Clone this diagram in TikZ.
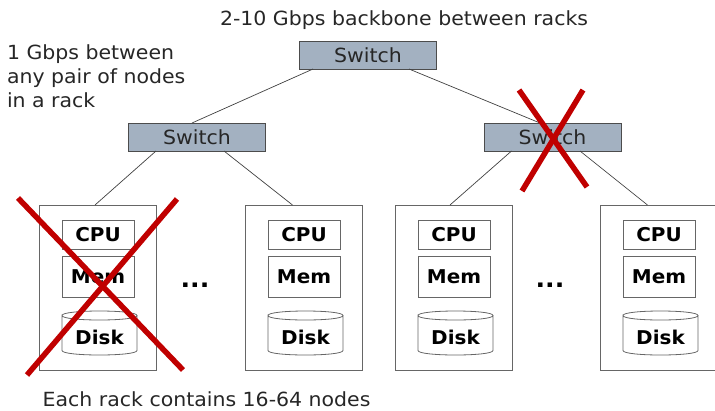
\documentclass[tikz,border=0pt]{standalone}
\usepackage{fontspec}
\setmainfont{DejaVu Sans}[FakeStretch=1.05]
\usetikzlibrary{calc}
\begin{document}
\begin{tikzpicture}[x=1pt,y=-1pt,
  every node/.style={inner sep=0pt, outer sep=0pt},
  switchbox/.style={draw=black!70, fill=switchfill, line width=0.8pt, minimum width=137pt, minimum height=28pt, font=\fontsize{19.5}{22}\selectfont, text=black!85},
  rackbox/.style={draw=black!60, line width=0.9pt, minimum width=117pt, minimum height=165pt},
  partbox/.style={draw=black!60, line width=0.8pt, minimum width=72pt, font=\bfseries\fontsize{19}{21}\selectfont},
  link/.style={draw=black!75, line width=0.7pt},
  cross/.style={draw=crossred, line width=5.5pt},
  label/.style={font=\fontsize{19.5}{24}\selectfont, text=black!85}
]
\definecolor{switchfill}{RGB}{163,177,193}
\definecolor{crossred}{RGB}{192,0,0}
\useasboundingbox (0,0) rectangle (715,410);

% switches
\node[switchbox] (top) at (368,55) {Switch};
\node[switchbox] (swl) at (197,137) {Switch};
\node[switchbox] (swr) at (552.5,137) {Switch};

% racks
\foreach \n/\x in {1/97.5, 2/303.5, 3/453.5, 4/658.5}{
  \node[rackbox] (r\n) at (\x,287.5) {};
  \node[partbox, minimum height=29pt, anchor=north west] (cpu\n) at ([xshift=23pt,yshift=-15pt]r\n.north west) {CPU};
  \node[partbox, minimum height=41pt, anchor=north west] (mem\n) at ([xshift=23pt,yshift=-51pt]r\n.north west) {Mem};
  \coordinate (dtl\n) at ([xshift=23pt,yshift=-110.5pt]r\n.north west);
  \coordinate (dtr\n) at ([xshift=98pt,yshift=-110.5pt]r\n.north west);
  \coordinate (dbl\n) at ([xshift=23pt,yshift=-145.5pt]r\n.north west);
  \coordinate (dbr\n) at ([xshift=98pt,yshift=-145.5pt]r\n.north west);
  \draw[black!60, line width=0.8pt] (dtl\n) .. controls ([yshift=6pt]dtl\n) and ([yshift=6pt]dtr\n) .. (dtr\n)
     .. controls ([yshift=-6pt]dtr\n) and ([yshift=-6pt]dtl\n) .. (dtl\n) -- (dbl\n)
     .. controls ([yshift=-6pt]dbl\n) and ([yshift=-6pt]dbr\n) .. (dbr\n) -- (dtr\n);
  \node[font=\bfseries\fontsize{19}{21}\selectfont] (disk\n) at ($(dbl\n)!0.5!(dtr\n)+(0,4)$) {Disk};
}

% links
\draw[link] ([xshift=-55pt]top.south) -- ([xshift=-5pt]swl.north);
\draw[link] ([xshift=41pt]top.south) -- ([xshift=-12.5pt]swr.north);
\draw[link] ([xshift=-41pt]swl.south) -- ([xshift=-2.5pt]r1.north);
\draw[link] ([xshift=27pt]swl.south) -- ([xshift=-11pt]r2.north);
\draw[link] ([xshift=-41pt]swr.south) -- ([xshift=-3.5pt]r3.north);
\draw[link] ([xshift=27.5pt]swr.south) -- ([xshift=-11pt]r4.north);

% dots
\node[font=\bfseries\fontsize{24}{26}\selectfont] (dotsl) at (195,285) {...};
\node[font=\bfseries\fontsize{24}{26}\selectfont] (dotsr) at (550,285) {...};

% labels
\node[label, anchor=base west] (bb) at (220,25) {2-10 Gbps backbone between racks};
\node[label, anchor=north west, align=left] (intra) at (7,44.5) {1 Gbps between\\any pair of nodes\\in a rack};
\node[label, anchor=base west, text depth=0pt] (each) at (42.7,406) {Each rack contains 16-64 nodes};

% crosses
\coordinate (c1a) at (18,198); \coordinate (c1b) at (183,370);
\coordinate (c1c) at (177,199); \coordinate (c1d) at (27,375);
\draw[cross] (c1a) -- (c1b);
\draw[cross] (c1c) -- (c1d);
\coordinate (c2a) at (519,90); \coordinate (c2b) at (587,187);
\coordinate (c2c) at (583,90); \coordinate (c2d) at (522,191);
\draw[cross] (c2a) -- (c2b);
\draw[cross] (c2c) -- (c2d);
\end{tikzpicture}
\end{document}
